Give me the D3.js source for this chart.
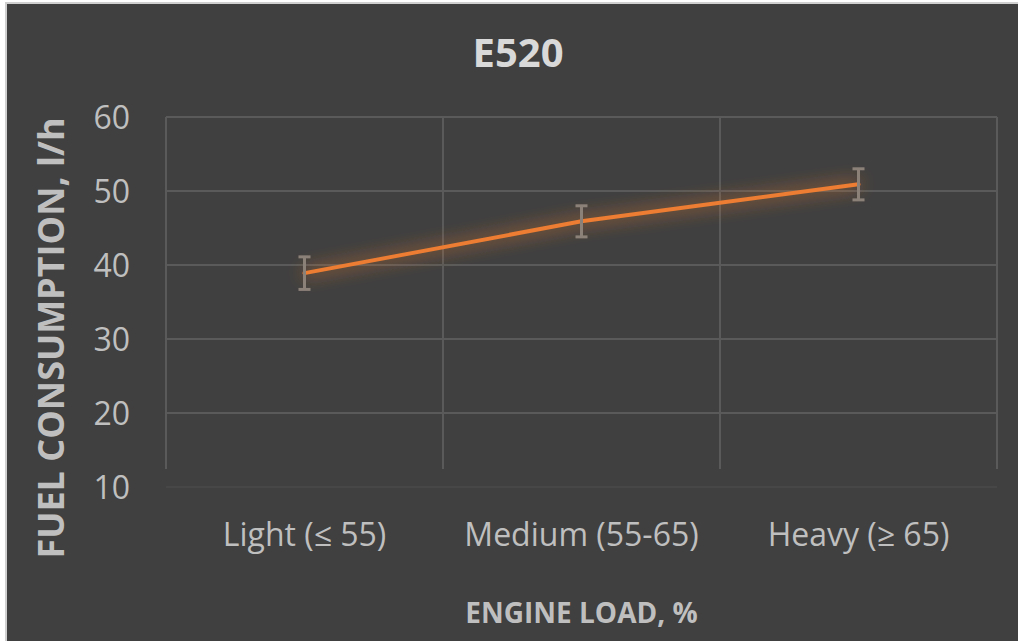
<!DOCTYPE html>
<html>
<head>
<meta charset="utf-8">
<script src="https://cdn.jsdelivr.net/npm/d3@7"></script>
<style>
  body { margin: 0; background: #ffffff; }
  svg { display: block; }
</style>
</head>
<body>
<div id="chart"></div>
<script>
// data
const categories = ['Light (\u2264 55)', 'Medium (55-65)', 'Heavy (\u2265 65)'];
const fuelUse = [38.9, 45.9, 50.9];
const fuelErr = [2.2, 2.1, 2.1];
const yTicks = [10, 20, 30, 40, 50, 60];

const width = 1018, height = 641;
const margin = { left: 166, right: 21, top: 117, bottom: 154 };
const font = "'Open Sans', 'Noto Sans', sans-serif";

const svg = d3.select('#chart').append('svg')
    .attr('width', width)
    .attr('height', height);

// glow filter for the line
const defs = svg.append('defs');
const glow = defs.append('filter').attr('id', 'glow')
    .attr('x', '-20%').attr('y', '-100%').attr('width', '140%').attr('height', '300%');
glow.append('feGaussianBlur').attr('in', 'SourceGraphic').attr('stdDeviation', 9).attr('result', 'blur');
glow.append('feComponentTransfer').attr('in', 'blur').attr('result', 'soft')
    .append('feFuncA').attr('type', 'linear').attr('slope', 1.1);
const merge = glow.append('feMerge');
merge.append('feMergeNode').attr('in', 'soft');
merge.append('feMergeNode').attr('in', 'SourceGraphic');

// chart background + border
svg.append('rect')
    .attr('x', 6).attr('y', 3)
    .attr('width', width).attr('height', height)
    .attr('fill', '#404040')
    .attr('stroke', '#d0d0d0')
    .attr('stroke-width', 2);

const x = d3.scaleBand()
    .domain(categories)
    .range([margin.left, width - margin.right]);

const y = d3.scaleLinear()
    .domain([10, 60])
    .range([height - margin.bottom, margin.top]);

// gridlines
svg.append('g')
    .selectAll('line')
    .data(yTicks)
    .join('line')
    .attr('x1', margin.left).attr('x2', width - margin.right)
    .attr('y1', d => y(d)).attr('y2', d => y(d))
    .attr('stroke', d => d === 10 ? '#474747' : '#5a5a5a')
    .attr('stroke-width', 2);

const xEdges = categories.map(c => x(c)).concat([width - margin.right]);
svg.append('g')
    .selectAll('line')
    .data(xEdges)
    .join('line')
    .attr('x1', d => d).attr('x2', d => d)
    .attr('y1', y(60)).attr('y2', y(10) - 18)
    .attr('stroke', '#5a5a5a')
    .attr('stroke-width', 2);

// y axis labels
const yAxis = svg.append('g')
    .attr('transform', `translate(${margin.left - 36},0)`)
    .call(d3.axisLeft(y).tickValues(yTicks).tickSize(0).tickPadding(0));
yAxis.select('.domain').remove();
yAxis.selectAll('text')
    .attr('fill', '#bfbfbf')
    .attr('dy', '0.36em')
    .style('font-family', font)
    .style('font-size', '32px');

// x axis labels
const xAxis = svg.append('g')
    .attr('transform', `translate(0,${y(10)})`)
    .call(d3.axisBottom(x).tickSize(0).tickPadding(0));
xAxis.select('.domain').remove();
xAxis.selectAll('text')
    .attr('fill', '#bfbfbf')
    .attr('dy', null)
    .attr('y', 59)
    .style('font-family', font)
    .style('font-size', '32px');

// titles
svg.append('text')
    .attr('x', 518).attr('y', 67)
    .attr('text-anchor', 'middle')
    .attr('fill', '#d9d9d9')
    .style('font-family', font)
    .style('font-size', '40px')
    .style('font-weight', 'bold')
    .text('E520');

svg.append('text')
    .attr('transform', 'translate(64,338) rotate(-90)')
    .attr('text-anchor', 'middle')
    .attr('fill', '#bfbfbf')
    .style('font-family', font)
    .style('font-size', '36px')
    .style('font-weight', 'bold')
    .text('FUEL CONSUMPTION, l/h');

svg.append('text')
    .attr('x', (margin.left + width - margin.right) / 2)
    .attr('y', 623)
    .attr('text-anchor', 'middle')
    .attr('fill', '#bfbfbf')
    .style('font-family', font)
    .style('font-size', '28px')
    .style('font-weight', 'bold')
    .text('ENGINE LOAD, %');

// line
const cx = c => x(c) + x.bandwidth() / 2;
const line = d3.line()
    .x((d, i) => cx(categories[i]))
    .y(d => y(d));

svg.append('path')
    .datum(fuelUse)
    .attr('d', line)
    .attr('fill', 'none')
    .attr('stroke', '#ed7d31')
    .attr('stroke-width', 4)
    .attr('stroke-linecap', 'round')
    .attr('filter', 'url(#glow)');

// error bars
const err = svg.append('g')
    .selectAll('g')
    .data(fuelUse)
    .join('g')
    .attr('stroke', '#8c8179')
    .attr('stroke-width', 3);

err.append('line')
    .attr('x1', (d, i) => cx(categories[i])).attr('x2', (d, i) => cx(categories[i]))
    .attr('y1', (d, i) => y(d + fuelErr[i])).attr('y2', (d, i) => y(d - fuelErr[i]));
err.append('line')
    .attr('x1', (d, i) => cx(categories[i]) - 6).attr('x2', (d, i) => cx(categories[i]) + 6)
    .attr('y1', (d, i) => y(d + fuelErr[i])).attr('y2', (d, i) => y(d + fuelErr[i]));
err.append('line')
    .attr('x1', (d, i) => cx(categories[i]) - 6).attr('x2', (d, i) => cx(categories[i]) + 6)
    .attr('y1', (d, i) => y(d - fuelErr[i])).attr('y2', (d, i) => y(d - fuelErr[i]));
</script>
</body>
</html>
